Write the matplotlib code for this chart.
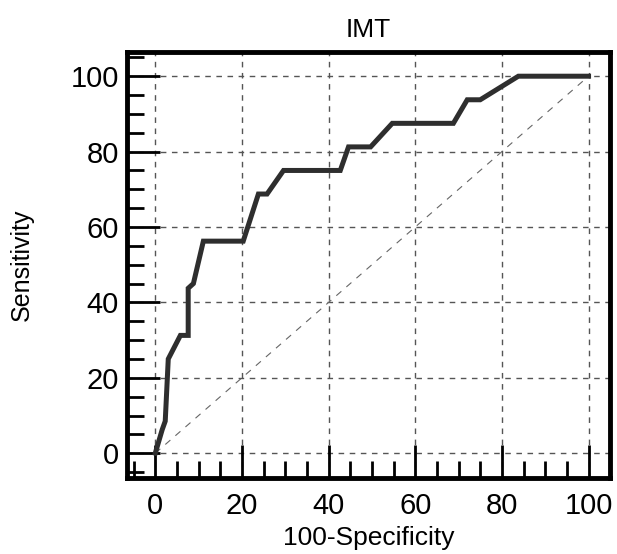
import numpy as np
import matplotlib
matplotlib.use("Agg")
import matplotlib.pyplot as plt
from matplotlib.ticker import MultipleLocator

plt.rcParams["font.family"] = ["Liberation Sans", "DejaVu Sans"]

# ROC 曲线数据 (100-特异度, 灵敏度)
fpr = [0, 1.6, 2.3, 3.0, 5.8, 7.6, 7.6, 8.8, 11.1, 20.3, 23.8, 25.8, 29.6,
       42.7, 44.6, 49.7, 54.7, 68.8, 72.0, 75.0, 83.8, 100]
tpr = [0, 6.25, 8.5, 25, 31.25, 31.25, 43.75, 45, 56.25, 56.25, 68.75, 68.75,
       75, 75, 81.25, 81.25, 87.5, 87.5, 93.75, 93.75, 100, 100]
ticks = [0, 20, 40, 60, 80, 100]


def draw_roc():
    fig = plt.figure(figsize=(6.17, 5.54), dpi=100)
    ax = fig.add_axes([0.206, 0.137, 0.783, 0.769])

    # 网格
    for t in ticks:
        ax.axvline(t, color="#555555", lw=1.0, ls=(0, (4, 4)), zorder=1)
        ax.axhline(t, color="#555555", lw=1.0, ls=(0, (4, 4)), zorder=1)
    # 对角线
    ax.plot([0, 100], [0, 100], color="#666666", lw=0.8, ls=(0, (6, 6)), zorder=2)
    ax.plot(fpr, tpr, color="#2e2e2e", lw=3.6, solid_joinstyle="miter", zorder=3)

    ax.set_xlim(-6.5, 105)
    ax.set_ylim(-6.6, 106.4)
    ax.set_xticks(ticks)
    ax.set_yticks(ticks)
    ax.xaxis.set_minor_locator(MultipleLocator(5))
    ax.yaxis.set_minor_locator(MultipleLocator(5))
    ax.tick_params(which="major", direction="in", length=24, width=2, labelsize=21)
    ax.tick_params(which="minor", direction="in", length=12, width=2)
    ax.tick_params(axis="x", which="major", pad=10)
    ax.tick_params(axis="y", which="major", pad=6)
    ax.tick_params(top=False, right=False, which="both")
    for s in ax.spines.values():
        s.set_linewidth(3.5)

    ax.set_title("IMT", fontsize=19, pad=11)
    ax.set_xlabel("100-Specificity", fontsize=19, labelpad=4)
    ax.set_ylabel("Sensitivity", fontsize=18, labelpad=26)

    fig.savefig("out.png", dpi=100)


if __name__ == "__main__":
    draw_roc()
